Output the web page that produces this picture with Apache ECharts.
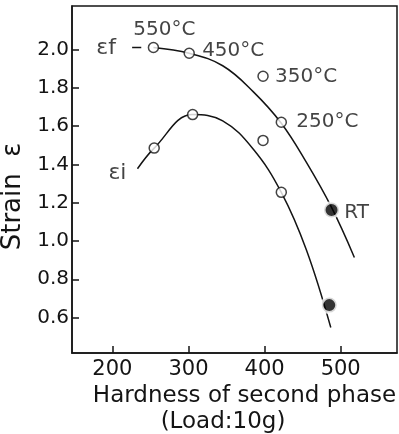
<!DOCTYPE html>
<html><head><meta charset="utf-8">
<script src="https://cdn.jsdelivr.net/npm/echarts@6/dist/echarts.min.js"></script>
<style>html,body{margin:0;padding:0;background:#fff}#c{width:399px;height:434px}</style>
</head><body><div id="c"></div>
<script>
// ---- data ----
const xTicks = [200, 300, 400, 500];
const yTicks = [0.6, 0.8, 1.0, 1.2, 1.4, 1.6, 1.8, 2.0];
// epsilon_f : fracture strain
const fPoints = [[254, 2.01], [301, 1.98], [398, 1.86], [422, 1.62]];
const fTemps = ['550°C', '450°C', '350°C', '250°C'];
const fRT = [488, 1.162];
const fDash = [[226, 2.01], [238, 2.01]];
const fCurve = [[254, 2.01], [301, 1.98], [345, 1.915], [385, 1.78], [422, 1.615], [455, 1.41], [488, 1.175], [518, 0.914]];
// epsilon_i : initiation strain
const iPoints = [[255, 1.485], [305.5, 1.66], [398, 1.525], [422, 1.254]];
const iRT = [485, 0.665];
const iCurve = [[233, 1.377], [255, 1.485], [305.5, 1.66], [345, 1.627], [385, 1.48], [422, 1.254], [455, 0.953], [487, 0.548]];
const rtLabel = 'RT';
const curveNames = ['εf', 'εi'];
const xSubTitle = '(Load:10g)';

const FONT = 'DejaVu Sans';
const INK = '#141414';
const chart = echarts.init(document.getElementById('c'), null, {renderer: 'canvas'});

const tempOffsets = [[11, -18], [44, -3], [43, 1], [46, 0]];
const fOpenData = fPoints.map((p, k) => ({
  value: p,
  label: {show: true, formatter: fTemps[k], position: 'inside', offset: tempOffsets[k]}
}));

const lineStyle = {color: INK, width: 1.5};

chart.setOption({
  animation: false,
  backgroundColor: '#fff',
  grid: {left: 72, right: 2, top: 6, bottom: 81, show: true, borderColor: INK, borderWidth: 1.5, outerBoundsMode: 'none'},
  xAxis: {
    type: 'value', min: 147, max: 574,
    axisLine: {lineStyle: {color: INK, width: 1.5}},
    axisTick: {inside: true, length: 7, customValues: xTicks, lineStyle: {color: INK, width: 1.5}},
    axisLabel: {customValues: xTicks, color: INK, fontFamily: FONT, fontSize: 21, margin: 6},
    splitLine: {show: false},
    name: 'Hardness of second phase', nameLocation: 'middle', nameGap: 31,
    nameTextStyle: {color: INK, fontFamily: FONT, fontSize: 23, padding: [0, 0, 0, 20]}
  },
  yAxis: {
    type: 'value', min: 0.415, max: 2.227,
    axisLine: {lineStyle: {color: INK, width: 1.5}},
    axisTick: {inside: true, length: 7, customValues: yTicks, lineStyle: {color: INK, width: 1.5}},
    axisLabel: {customValues: yTicks, color: INK, fontFamily: FONT, fontSize: 20, margin: 3, formatter: v => v.toFixed(1)},
    splitLine: {show: false},
    name: 'Strain  ε', nameLocation: 'middle', nameRotate: 90, nameGap: 37,
    nameTextStyle: {color: INK, fontFamily: FONT, fontSize: 26, padding: [0, 34, 0, 0]}
  },
  graphic: [{
    type: 'text', x: 223, y: 422,
    style: {text: xSubTitle, fill: INK, fontFamily: FONT, fontSize: 23, align: 'center', verticalAlign: 'middle'}
  }],
  series: [
    {type: 'line', data: fDash, symbol: 'none', lineStyle, z: 2},
    {type: 'line', data: fCurve, smooth: 0.4, symbol: 'none', lineStyle, z: 2},
    {type: 'line', data: iCurve, smooth: 0.4, symbol: 'none', lineStyle, z: 2},
    {type: 'scatter', data: fOpenData, symbol: 'circle', symbolSize: 10, z: 3,
      itemStyle: {color: '#fff', borderColor: INK, borderWidth: 1.5},
      label: {color: INK, fontFamily: FONT, fontSize: 20}},
    {type: 'scatter', data: iPoints, symbol: 'circle', symbolSize: 10, z: 3,
      itemStyle: {color: '#fff', borderColor: INK, borderWidth: 1.5}},
    {type: 'scatter', data: [{value: fRT, label: {show: true, formatter: rtLabel, position: 'inside', offset: [25, 3]}}],
      symbol: 'circle', symbolSize: 15, z: 3,
      itemStyle: {color: '#000', borderColor: '#fff', borderWidth: 3},
      label: {color: INK, fontFamily: FONT, fontSize: 20}},
    {type: 'scatter', data: [iRT], symbol: 'circle', symbolSize: 15, z: 3,
      itemStyle: {color: '#000', borderColor: '#fff', borderWidth: 3}},
    {type: 'scatter', z: 4, symbol: 'circle', symbolSize: 1, itemStyle: {color: 'rgba(0,0,0,0)'},
      data: [
        {value: fDash[0], label: {show: true, formatter: curveNames[0], position: 'inside', offset: [-26, 1]}},
        {value: iCurve[0], label: {show: true, formatter: curveNames[1], position: 'inside', offset: [-20, 5]}}
      ],
      label: {color: INK, fontFamily: FONT, fontSize: 22}}
  ]
});
</script></body></html>
